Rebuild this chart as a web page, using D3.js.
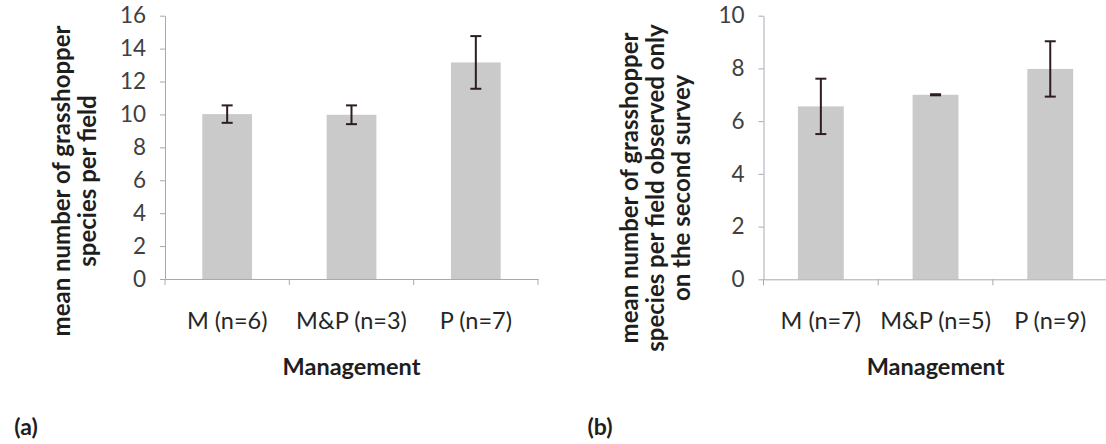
<!DOCTYPE html>
<html>
<head>
<meta charset="utf-8">
<script src="https://cdn.jsdelivr.net/npm/d3@7"></script>
<style>
  body { margin: 0; background: #fff; }
  svg { display: block; font-family: Lato, sans-serif; }
  .tick text { fill: #404040; }
  .domain, .tick line { stroke: #a8a8b4; }
</style>
</head>
<body>
<svg width="1106" height="444"></svg>
<script>
// panel (a)
const catsA = ["M (n=6)", "M&P (n=3)", "P (n=7)"];
const meansA = [10.02, 9.98, 13.16];
const errA = [0.53, 0.57, 1.6];
const ticksA = [0, 2, 4, 6, 8, 10, 12, 14, 16];
const titleA = ["mean number of grasshopper", "species per field"];

// panel (b)
const catsB = ["M (n=7)", "M&P (n=5)", "P (n=9)"];
const meansB = [6.56, 7.0, 7.98];
const errB = [1.05, 0.02, 1.05];
const ticksB = [0, 2, 4, 6, 8, 10];
const titleB = ["mean number of grasshopper", "species per field observed only", "on the second survey"];

const svg = d3.select("svg");

function panel(opts) {
  const { cats, means, errs, ticks, title, left, right, top, bottom, titleX, titleY, tag, tagX } = opts;

  const x = d3.scaleBand()
    .domain(cats)
    .range([left, right])
    .paddingInner(0.6)
    .paddingOuter(0.3);

  const y = d3.scaleLinear()
    .domain([0, d3.max(ticks)])
    .range([bottom, top]);

  const g = svg.append("g");

  // bars
  g.selectAll(".bar")
    .data(cats)
    .enter()
    .append("rect")
    .attr("class", "bar")
    .attr("x", d => x(d))
    .attr("width", x.bandwidth())
    .attr("y", (d, i) => y(means[i]))
    .attr("height", (d, i) => y(0) - y(means[i]))
    .attr("fill", "#cacaca");

  // error bars
  const eb = g.selectAll(".err")
    .data(cats)
    .enter()
    .append("g")
    .attr("class", "err")
    .attr("stroke", "#2e1c1e")
    .attr("stroke-width", 2);
  const cx = d => x(d) + x.bandwidth() / 2;
  eb.append("line")
    .attr("x1", cx).attr("x2", cx)
    .attr("y1", (d, i) => y(means[i] + errs[i]))
    .attr("y2", (d, i) => y(means[i] - errs[i]));
  [1, -1].forEach(s => {
    eb.append("line")
      .attr("x1", d => cx(d) - 5.5).attr("x2", d => cx(d) + 5.5)
      .attr("y1", (d, i) => y(means[i] + s * errs[i]))
      .attr("y2", (d, i) => y(means[i] + s * errs[i]));
  });

  // y axis
  const yAxis = g.append("g")
    .attr("transform", `translate(${left},0)`)
    .call(d3.axisLeft(y).tickValues(ticks).tickSize(5).tickSizeOuter(0).tickPadding(14))
    .attr("font-family", null)
    .attr("font-size", null);
  yAxis.selectAll("text").style("font-size", "22.5px");

  // x axis: labels at band centres, ticks between categories
  const xAxis = g.append("g")
    .attr("transform", `translate(0,${bottom})`)
    .call(d3.axisBottom(x).tickSize(0).tickPadding(33))
    .attr("font-family", null)
    .attr("font-size", null);
  xAxis.selectAll(".tick text").style("font-size", "23.5px").style("fill", "#262626");
  const bounds = d3.range(cats.length + 1).map(i => left + i * x.step());
  xAxis.selectAll(".sep")
    .data(bounds)
    .enter()
    .append("line")
    .attr("class", "sep")
    .attr("x1", d => d).attr("x2", d => d)
    .attr("y1", 0).attr("y2", 6)
    .attr("stroke", "#a8a8b4");

  // x title
  g.append("text")
    .attr("x", (left + right) / 2)
    .attr("y", 375)
    .attr("text-anchor", "middle")
    .style("font-size", "23.5px")
    .style("font-weight", "bold")
    .style("fill", "#1e1e1e")
    .text("Management");

  // y title
  const yt = g.append("text")
    .attr("transform", `translate(${titleX},${titleY}) rotate(-90)`)
    .attr("text-anchor", "middle")
    .style("font-size", "24px")
    .style("font-weight", "bold")
    .style("fill", "#1e1e1e");
  yt.selectAll("tspan")
    .data(title)
    .enter()
    .append("tspan")
    .attr("x", 0)
    .attr("y", (d, i) => i * 26)
    .attr("dy", "0.35em")
    .text(d => d);

  // panel tag
  g.append("text")
    .attr("x", tagX)
    .attr("y", 435)
    .attr("text-anchor", "middle")
    .style("font-size", "23px")
    .style("font-weight", "bold")
    .style("fill", "#1e1e1e")
    .text(tag);
}

panel({
  cats: catsA, means: meansA, errs: errA, ticks: ticksA, title: titleA,
  left: 165, right: 538, top: 15.7, bottom: 279,
  titleX: 62, titleY: 181, tag: "(a)", tagX: 26
});

panel({
  cats: catsB, means: meansB, errs: errB, ticks: ticksB, title: titleB,
  left: 763.5, right: 1107.6, top: 15.7, bottom: 279.3,
  titleX: 630, titleY: 188, tag: "(b)", tagX: 600
});
</script>
</body>
</html>
